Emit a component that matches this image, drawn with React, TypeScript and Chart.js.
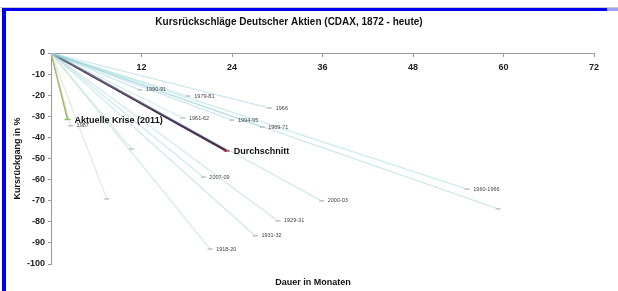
import React, { useEffect, useRef } from "react";
import { Chart, registerables } from "chart.js";

Chart.register(...registerables);

// Individual drawdowns (end point of each line, line starts at 0 / 0)
const crashNames = [
  "1987", "1990-91", "1979-81", "1966", "1961-62", "1994-95", "1969-71",
  "", "", "2007-09", "1929-31", "1931-32", "1918-20", "2000-03", "1960-1966", "",
];
const crashMonths = [2.6, 11.8, 18.2, 29.0, 17.5, 24.0, 28.0, 7.4, 10.7, 20.2, 30.1, 27.1, 21.1, 35.9, 55.2, 59.3];
const crashDrops = [-34.5, -17.5, -20.4, -26.1, -30.8, -31.8, -35.1, -69.2, -45.5, -58.8, -79.6, -86.7, -92.9, -70.1, -64.5, -73.9];

// Highlighted series
const highlightNames = ["Aktuelle Krise (2011)", "Durchschnitt"];
const highlightMonths = [2.2, 23.3];
const highlightDrops = [-31.5, -46.4];

// Axis ticks
const xTickStep = 12;
const xMax = 72;
const yTickStep = 10;
const yMin = -100;

const titleText = "Kursrückschläge Deutscher Aktien (CDAX, 1872 - heute)";
const xTitleText = "Dauer in Monaten";
const yTitleText = "Kursrückgang in %";

const FONT = "'Liberation Sans', Arial, sans-serif";

const paleColors = [
  "rgba(235,170,190,0.5)",
  "rgba(140,205,215,0.45)",
  "rgba(150,210,200,0.45)",
  "rgba(140,200,220,0.45)",
  "rgba(160,215,210,0.45)",
  "rgba(150,200,225,0.45)",
  "rgba(140,210,215,0.45)",
  "rgba(170,215,170,0.45)",
  "rgba(170,220,180,0.45)",
  "rgba(140,205,215,0.45)",
  "rgba(150,205,210,0.45)",
  "rgba(140,200,215,0.45)",
  "rgba(150,210,205,0.45)",
  "rgba(140,205,210,0.45)",
  "rgba(140,210,215,0.45)",
  "rgba(150,205,215,0.45)",
];

const endLabelPlugin = {
  id: "endLabels",
  afterDatasetsDraw(chart: any) {
    const { ctx } = chart;
    chart.data.datasets.forEach((ds: any, i: number) => {
      if (!ds.endLabel) return;
      const meta = chart.getDatasetMeta(i);
      const pt = meta.data[1];
      if (!pt) return;
      ctx.save();
      ctx.textBaseline = "middle";
      ctx.textAlign = "left";
      if (ds.big) {
        ctx.font = `bold 9px ${FONT}`;
        ctx.fillStyle = "#111";
        ctx.fillText(ds.endLabel, pt.x + 7, pt.y + 1);
      } else {
        ctx.font = `5.5px ${FONT}`;
        ctx.fillStyle = "#444";
        ctx.fillText(ds.endLabel, pt.x + 6, pt.y);
      }
      ctx.restore();
    });
  },
};

const titlesPlugin = {
  id: "titles",
  afterDraw(chart: any) {
    const { ctx } = chart;
    ctx.save();
    ctx.fillStyle = "#111";
    ctx.textAlign = "center";
    ctx.textBaseline = "middle";
    ctx.font = `bold 10px ${FONT}`;
    ctx.fillText(titleText, 289, 22);
    ctx.font = `bold 9px ${FONT}`;
    ctx.fillText(xTitleText, 313, 283);
    ctx.restore();
  },
};

export default function App() {
  const ref = useRef<HTMLCanvasElement>(null);

  useEffect(() => {
    if (!ref.current) return;
    const datasets: any[] = [];
    crashNames.forEach((name, i) => {
      datasets.push({
        label: name || `crash${i}`,
        data: [
          { x: 0, y: 0 },
          { x: crashMonths[i], y: crashDrops[i] },
        ],
        borderColor: paleColors[i % paleColors.length],
        borderWidth: 1.2,
        pointRadius: [0, 2.5],
        pointStyle: "line",
        pointBorderColor: "#a8a8a8",
        pointBorderWidth: 1,
        tension: 0,
        fill: false,
        endLabel: name,
        big: false,
      });
    });
    const bigColors = ["#86c455", "#4b2c4e"];
    const bigWidths = [1.5, 2.4];
    const bigPoint = ["#86c455", "#b03050"];
    highlightNames.forEach((name, i) => {
      datasets.push({
        label: name,
        data: [
          { x: 0, y: 0 },
          { x: highlightMonths[i], y: highlightDrops[i] },
        ],
        borderColor: bigColors[i],
        borderWidth: bigWidths[i],
        pointRadius: [0, 3],
        pointStyle: "line",
        pointBorderColor: bigPoint[i],
        pointBorderWidth: 1.5,
        tension: 0,
        fill: false,
        endLabel: name,
        big: true,
      });
    });

    const chart = new Chart(ref.current, {
      type: "line",
      data: { datasets },
      plugins: [endLabelPlugin, titlesPlugin],
      options: {
        responsive: false,
        animation: false,
        layout: { padding: { left: 6, right: 24, top: 53, bottom: 27 } },
        plugins: {
          legend: { display: false },
          title: { display: false },
          tooltip: { enabled: false },
        },
        scales: {
          x: {
            type: "linear",
            min: 0,
            max: xMax,
            position: { y: 0 } as any,
            ticks: {
              stepSize: xTickStep,
              callback: (v: any) => (v === 0 ? "" : String(v)),
              font: { size: 9, weight: "bold", family: FONT },
              color: "#222",
              padding: 6,
              maxRotation: 0,
              autoSkip: false,
            },
            grid: { drawOnChartArea: false, tickLength: 3, color: "#999" },
            border: { color: "#9a9a9a", width: 1 },
          },
          y: {
            type: "linear",
            min: yMin,
            max: 0,
            position: "left",
            afterFit: (s: any) => {
              s.width = 45;
            },
            ticks: {
              stepSize: yTickStep,
              font: { size: 9, weight: "bold", family: FONT },
              color: "#222",
              padding: 3,
            },
            grid: { drawOnChartArea: false, tickLength: 3, color: "#999" },
            border: { color: "#9a9a9a", width: 1 },
            title: {
              display: true,
              text: yTitleText,
              font: { size: 9, weight: "bold", family: FONT },
              color: "#111",
              padding: { top: 6, bottom: 0 },
            },
          },
        },
      } as any,
    });
    return () => chart.destroy();
  }, []);

  return (
    <div
      style={{
        position: "fixed",
        left: 0,
        top: 0,
        width: 618,
        height: 291,
        background: "#fff",
        overflow: "hidden",
      }}
    >
      <div style={{ position: "absolute", left: 0, top: 7, width: 618, height: 1, background: "#c8c8d4" }} />
      <div style={{ position: "absolute", left: 2, top: 8, width: 605, height: 3, background: "#0000f0" }} />
      <div style={{ position: "absolute", left: 607, top: 8, width: 11, height: 3, background: "#a0a0f0" }} />
      <div style={{ position: "absolute", left: 2, top: 8, width: 4, height: 283, background: "#0000f0" }} />
      <canvas ref={ref} width={618} height={291} style={{ position: "absolute", left: 0, top: 0 }} />
    </div>
  );
}
